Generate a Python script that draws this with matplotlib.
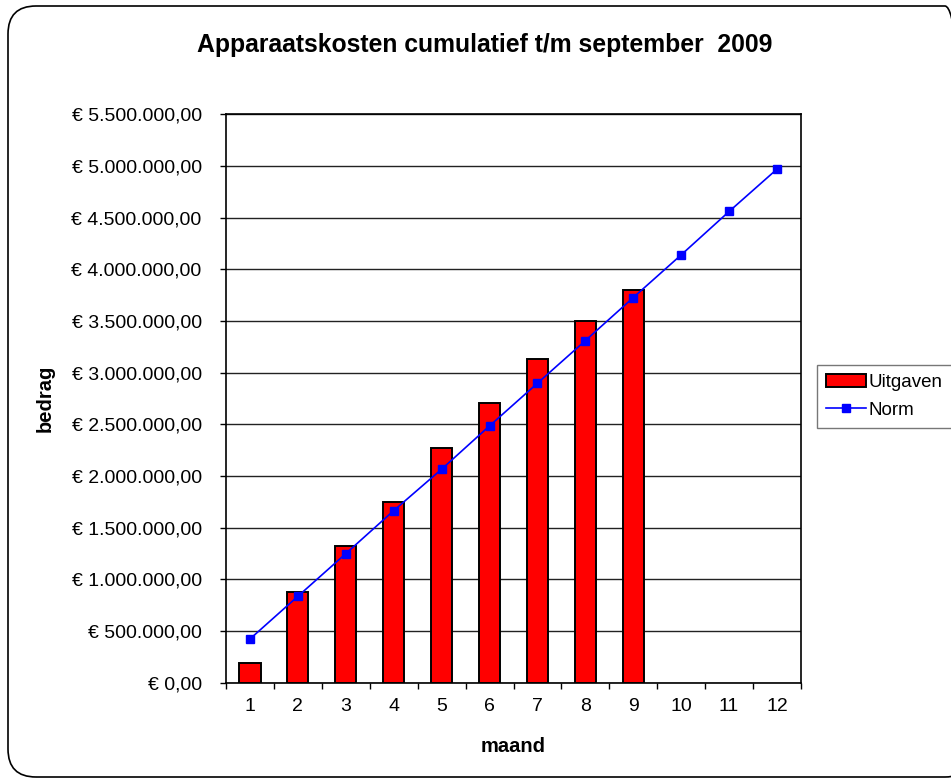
import numpy as np
import matplotlib.pyplot as plt
from matplotlib.patches import FancyBboxPatch
from matplotlib.ticker import FuncFormatter, FixedLocator
from matplotlib.transforms import IdentityTransform

plt.rcParams['font.family'] = ['Liberation Sans', 'DejaVu Sans']

# maand 1..12
maanden = list(range(1, 13))
# cumulatieve uitgaven t/m september
uitgaven = [190000, 875000, 1320000, 1750000, 2270000, 2710000,
            3130000, 3500000, 3800000]
# norm per maand
norm = [423000, 836000, 1249000, 1665000, 2066000, 2485000,
        2898000, 3310000, 3727000, 4140000, 4560000, 4970000]

titel = "Apparaatskosten cumulatief t/m september  2009"


def euro(v, pos=None):
    s = f"{v:,.2f}".replace(",", "X").replace(".", ",").replace("X", ".")
    return "\u20ac " + s


fig = plt.figure(figsize=(9.51, 7.78), dpi=100)

# afgeronde rand om de hele grafiek
rand = FancyBboxPatch((8, 1), 965, 771, boxstyle="round,pad=0,rounding_size=28",
                      transform=IdentityTransform(), fill=False,
                      edgecolor='black', linewidth=1.2)
fig.patches.append(rand)

ax = fig.add_axes([226 / 951, 1 - 682.7 / 778, 575 / 951, 568.4 / 778])

staven = ax.bar(maanden[:len(uitgaven)], uitgaven, width=0.44, color='#ff0000',
                edgecolor='black', linewidth=1.4, label='Uitgaven', zorder=3)
lijn, = ax.plot(maanden, norm, color='#0000ff', linewidth=1.2, marker='s',
                markersize=5.5, label='Norm', zorder=4)

ax.set_xlim(0.5, 12.5)
ax.set_ylim(0, 5500000)
ax.yaxis.set_major_locator(FixedLocator(np.arange(0, 5500001, 500000)))
ax.yaxis.set_major_formatter(FuncFormatter(euro))
ax.set_xticks(maanden)
ax.xaxis.set_minor_locator(FixedLocator(np.arange(0.5, 12.6, 1)))
ax.tick_params(axis='x', which='major', length=0, pad=11, labelsize=14)
ax.tick_params(axis='x', which='minor', length=4.5, width=1, direction='out')
ax.tick_params(axis='y', which='major', length=4.5, width=1, pad=13, labelsize=14)

ax.grid(axis='y', color='#222222', linewidth=1, zorder=0)
ax.set_axisbelow(True)
for sp in ax.spines.values():
    sp.set_linewidth(1.2)
    sp.set_color('black')

ax.set_xlabel('maand', fontsize=14.5, fontweight='bold', labelpad=16)
ax.set_ylabel('bedrag', fontsize=14.5, fontweight='bold', labelpad=12)

fig.text(485 / 951, 1 - 45 / 778, titel, ha='center', va='center',
         fontsize=17.8, fontweight='bold')

leg = fig.legend([staven, lijn], ['Uitgaven', 'Norm'], loc='upper left',
                 bbox_to_anchor=(817 / 951, 1 - 365 / 778),
                 fontsize=13.5, frameon=True, fancybox=False, borderpad=0.5,
                 handlelength=2.1, handletextpad=0.15, labelspacing=0.55,
                 borderaxespad=0)
leg.get_frame().set_edgecolor('#555555')
leg.get_frame().set_linewidth(1)

fig.savefig('out.png', dpi=100)
